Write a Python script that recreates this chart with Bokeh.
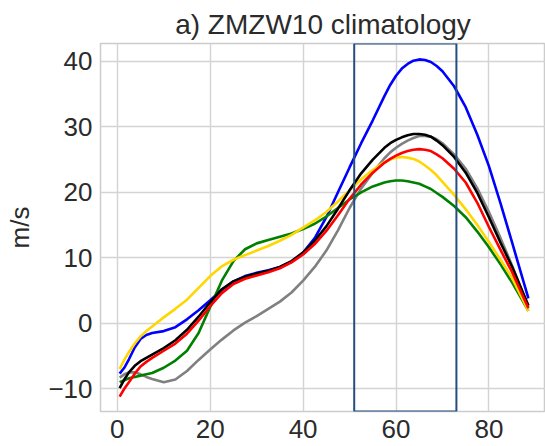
from bokeh.plotting import figure
from bokeh.models import Range1d, BoxAnnotation, FixedTicker
from bokeh.embed import file_html
from bokeh.resources import INLINE

lat = [0.5, 1.5, 2.5, 3.75, 5, 6.25, 7.5, 10, 12.5, 15, 17.5, 20, 22.5, 25, 27.5, 30, 32.5, 35, 37.5,
       40, 42.5, 45, 47.5, 50, 52.5, 55, 57.5, 58.75, 60, 61.25, 62.5, 63.75, 65, 66.25, 67.5, 68.75,
       70, 72.5, 75, 77.5, 80, 82.5, 85, 88.5]

gray_vals = [-8.3, -7.8, -7.5, -7.5, -7.8, -8.2, -8.5, -9.0, -8.6, -7.3, -5.6, -4.0, -2.5, -1.1, 0.1, 1.1, 2.2, 3.3, 4.7,
             6.5, 8.6, 11.1, 14.2, 17.6, 20.6, 23.0, 25.2, 26.1, 26.8, 27.4, 27.9, 28.3, 28.6, 28.6, 28.5, 28.1,
             27.5, 25.8, 23.6, 20.6, 17.0, 13.0, 8.8, 2.5]
blue_vals = [-7.7, -6.8, -5.5, -3.7, -2.4, -1.8, -1.5, -1.2, -0.6, 0.6, 2.0, 3.5, 5.1, 6.4, 7.2, 7.7, 8.1, 8.6, 9.4,
             10.8, 13.0, 16.2, 20.0, 23.8, 27.5, 31.0, 34.7, 36.4, 37.8, 38.9, 39.6, 40.1, 40.3, 40.2, 39.9, 39.3,
             38.5, 36.2, 33.0, 28.8, 24.0, 18.3, 12.3, 3.8]
green_vals = [-9.0, -8.7, -8.4, -8.2, -8.0, -7.8, -7.6, -6.8, -5.7, -4.2, -1.5, 2.5, 6.5, 9.5, 11.3, 12.2, 12.7, 13.2, 13.7,
              14.4, 15.2, 16.3, 17.6, 18.9, 20.0, 20.9, 21.5, 21.7, 21.8, 21.8, 21.7, 21.5, 21.3, 20.9, 20.5, 19.9,
              19.3, 17.9, 16.2, 14.0, 11.6, 9.0, 6.2, 1.9]
yellow_vals = [-7.0, -5.6, -4.4, -3.1, -2.0, -1.2, -0.5, 0.9, 2.2, 3.6, 5.4, 7.2, 8.7, 9.7, 10.4, 11.1, 11.8, 12.6, 13.5,
               14.6, 15.7, 17.0, 18.6, 20.3, 22.0, 23.4, 24.6, 25.0, 25.3, 25.4, 25.3, 25.1, 24.7, 24.1, 23.4, 22.6,
               21.6, 19.6, 17.4, 15.0, 12.4, 9.7, 6.9, 1.9]
black_vals = [-9.9, -8.6, -7.5, -6.5, -5.8, -5.3, -4.8, -3.8, -2.6, -1.0, 1.0, 3.2, 5.2, 6.4, 7.1, 7.6, 8.0, 8.6, 9.5,
              10.8, 12.6, 14.8, 17.5, 20.3, 22.9, 25.0, 26.8, 27.5, 28.0, 28.4, 28.7, 28.9, 28.9, 28.8, 28.5, 27.9,
              27.2, 25.4, 23.0, 19.9, 16.2, 12.3, 8.6, 2.7]
red_vals = [-11.2, -10.0, -9.0, -7.7, -6.6, -5.9, -5.3, -4.2, -3.1, -1.6, 0.4, 2.6, 4.6, 6.0, 6.8, 7.3, 7.8, 8.4, 9.3,
            10.5, 12.1, 14.1, 16.5, 19.0, 21.2, 23.0, 24.5, 25.1, 25.6, 26.0, 26.3, 26.5, 26.6, 26.5, 26.3, 25.8,
            25.2, 23.6, 21.5, 18.4, 14.7, 11.2, 7.8, 2.3]

series = [
    (gray_vals, "#808080"),
    (blue_vals, "#0000ff"),
    (green_vals, "#008000"),
    (yellow_vals, "#ffd700"),
    (black_vals, "#000000"),
    (red_vals, "#ff0000"),
]

box_left, box_right = 51, 73
x_ticks = [0, 20, 40, 60, 80]
y_ticks = [-10, 0, 10, 20, 30, 40]
y_tick_labels = ["\u221210", "0", "10", "20", "30", "40"]
title_text = "a) ZMZW10 climatology"
y_label = "m/s"

TXT = "#2b2b2b"
FONT = "Liberation Sans"

p = figure(width=545, height=446, output_backend="svg", toolbar_location=None,
           x_range=Range1d(-3.62, 92.18), y_range=Range1d(-13.48, 42.73),
           min_border_left=100, min_border_right=0, min_border_top=43, min_border_bottom=35,
           title=title_text)
p.background_fill_color = "white"
p.border_fill_color = "white"
p.outline_line_color = "#cccccc"
p.outline_line_width = 1.5

p.title.align = "center"
p.title.text_font = FONT
p.title.text_font_size = "28px"
p.title.text_font_style = "normal"
p.title.text_color = TXT
p.title.standoff = 7

for ax in (p.xaxis[0], p.yaxis[0]):
    ax.axis_line_color = None
    ax.major_tick_line_color = None
    ax.minor_tick_line_color = None
    ax.major_tick_out = 0
    ax.major_tick_in = 0
    ax.major_label_text_font = FONT
    ax.major_label_text_font_size = "26px"
    ax.major_label_text_color = TXT
    ax.axis_label_text_font = FONT
    ax.axis_label_text_font_style = "normal"
    ax.axis_label_text_color = TXT

p.xaxis.ticker = FixedTicker(ticks=x_ticks)
p.yaxis.ticker = FixedTicker(ticks=y_ticks)
p.yaxis.major_label_overrides = {t: l for t, l in zip(y_ticks, y_tick_labels)}
p.xaxis.major_label_standoff = 8
p.yaxis.major_label_standoff = 8
p.yaxis.axis_label = y_label
p.yaxis.axis_label_text_font_size = "26px"
p.yaxis.axis_label_standoff = 10

p.xgrid.ticker = FixedTicker(ticks=x_ticks)
p.ygrid.ticker = FixedTicker(ticks=y_ticks)
p.grid.grid_line_color = "#d4d4d4"
p.grid.grid_line_width = 1.5

for vals, col in series:
    p.line(lat, vals, line_color=col, line_width=2.6)

p.add_layout(BoxAnnotation(left=box_left, right=box_right, fill_alpha=0,
                           line_color="#234e80", line_width=2, line_alpha=1))

open("out.html", "w").write(file_html(p, INLINE))
